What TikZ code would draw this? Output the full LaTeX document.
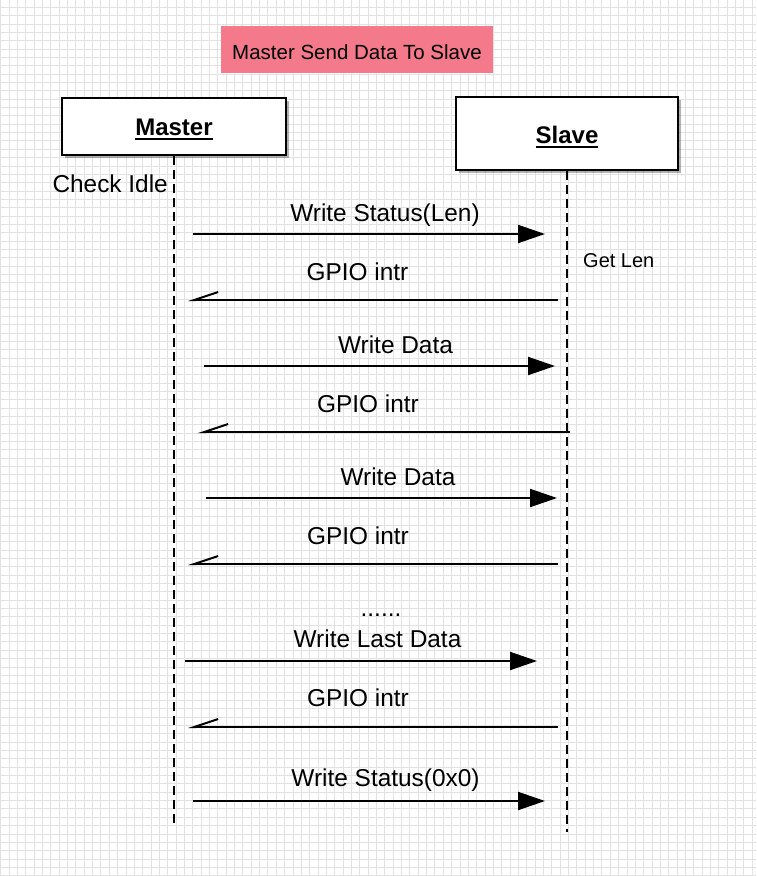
\documentclass[tikz,border=0pt]{standalone}
\usepackage{fontspec}
\setmainfont{Liberation Sans}
\usetikzlibrary{arrows.meta,shadows}
\definecolor{gridc}{HTML}{E2E2E2}
\definecolor{titlepink}{HTML}{F47A8B}
\newcommand\myul[1]{\setbox0\hbox{#1}\rlap{\rule[-5pt]{\wd0}{2pt}}\box0}
\begin{document}
\begin{tikzpicture}[x=1pt,y=-1pt,
  gridline/.style={gridc, line width=0.9pt},
  lifebox/.style={draw=black, line width=2pt, fill=white,
    drop shadow={shadow xshift=2.5pt, shadow yshift=-3pt, opacity=0.3, fill=black},
    font=\fontsize{24}{28}\selectfont\bfseries, text height=17pt, text depth=0pt, inner sep=0pt},
  lifeline/.style={line width=2pt, dash pattern=on 9pt off 5pt},
  msg/.style={line width=2pt, -{Triangle[length=27pt,width=18pt]}},
  reply/.style={line width=2pt, -{Straight Barb[right,length=24pt,width=16pt]}},
  lbl/.style={font=\fontsize{24.4}{28}\selectfont, anchor=base, inner sep=0pt},
  note/.style={font=\fontsize{20}{24}\selectfont, anchor=base, inner sep=0pt}]
\useasboundingbox (0,0) rectangle (756,876);
\fill[white] (0,0) rectangle (756,876);
\foreach \i in {0,...,90} \draw[gridline] ({0.7+\i*8.35},0) -- ({0.7+\i*8.35},876);
\foreach \j in {0,...,104} \draw[gridline] (0,{7.3+\j*8.35}) -- (756,{7.3+\j*8.35});

% title
\node[fill=titlepink, minimum width=272pt, minimum height=47pt, inner sep=0pt,
  font=\fontsize{20.5}{24}\selectfont, text height=19pt, text depth=0pt] (title) at (357,49.5) {Master Send Data To Slave};

% participants
\node[lifebox, minimum width=224pt, minimum height=57pt] (master) at (174,126.5) {\myul{Master}};
\node[lifebox, text height=19.6pt, minimum width=222pt, minimum height=73pt] (slave) at (567,133.5) {\myul{Slave}};

\coordinate (mend) at (174,824);
\coordinate (send) at (567,832);
\draw[lifeline] (master.south) -- (mend);
\draw[lifeline] (slave.south) -- (send);

\node[lbl, anchor=base east] (idle) at (168,192) {Check Idle};
\node[note, anchor=base west] (getlen) at (583,267) {Get Len};

% message end points
\coordinate (a1s) at (193,234);  \coordinate (a1e) at (545,234);
\coordinate (r1s) at (558,300);  \coordinate (r1e) at (188,300);
\coordinate (a2s) at (204,366);  \coordinate (a2e) at (555,366);
\coordinate (r2s) at (570,432);  \coordinate (r2e) at (198,432);
\coordinate (a3s) at (206,498);  \coordinate (a3e) at (557,498);
\coordinate (r3s) at (558,564);  \coordinate (r3e) at (188,564);
\coordinate (a4s) at (185,661);  \coordinate (a4e) at (537,661);
\coordinate (r4s) at (558,727);  \coordinate (r4e) at (188,727);
\coordinate (a5s) at (193,801);  \coordinate (a5e) at (545,801);

\draw[msg] (a1s) -- (a1e);
\draw[reply] (r1s) -- (r1e);
\draw[msg] (a2s) -- (a2e);
\draw[reply] (r2s) -- (r2e);
\draw[msg] (a3s) -- (a3e);
\draw[reply] (r3s) -- (r3e);
\draw[msg] (a4s) -- (a4e);
\draw[reply] (r4s) -- (r4e);
\draw[msg] (a5s) -- (a5e);

% labels
\node[lbl] (l1) at (385,221.5) {Write Status(Len)};
\node[lbl] (l2) at (357.5,280) {GPIO intr};
\node[lbl] (l3) at (395.5,353) {Write Data};
\node[lbl] (l4) at (368,412) {GPIO intr};
\node[lbl] (l5) at (398,485) {Write Data};
\node[lbl] (l6) at (358,544) {GPIO intr};
\node[lbl] (dots) at (381,616) {......};
\node[lbl] (l7) at (377.5,647) {Write Last Data};
\node[lbl] (l8) at (358,706) {GPIO intr};
\node[lbl] (l9) at (385.5,786.5) {Write Status(0x0)};
\end{tikzpicture}
\end{document}
